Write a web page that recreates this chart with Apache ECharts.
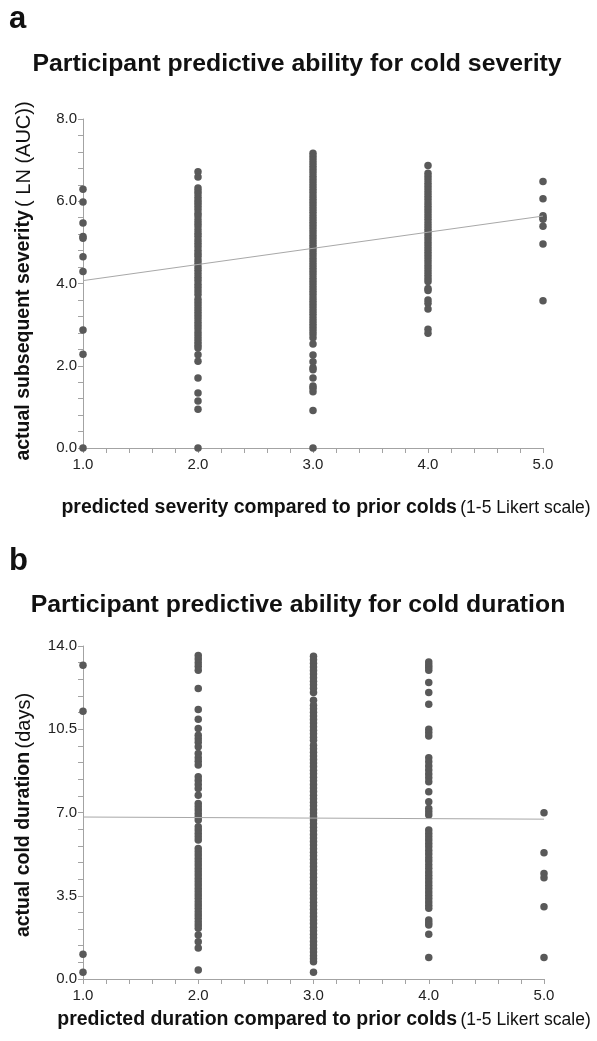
<!DOCTYPE html>
<html>
<head>
<meta charset="utf-8">
<script src="https://cdn.jsdelivr.net/npm/echarts@6/dist/echarts.min.js"></script>
<style>
  html, body { margin: 0; padding: 0; background: #fff; }
  #main { width: 597px; height: 1041px; }
</style>
</head>
<body>
<div id="main"></div>
<script>
// x categories (Likert scale) - shared by both panels
var likert = [1, 2, 3, 4, 5];

// panel a: actual severity LN(AUC), one list per predicted value
var sev1 = [6.29, 5.98, 5.47, 5.14, 5.10, 4.65, 4.29, 2.87, 2.28, 0.0];
var sev2 = [6.72, 6.59, 6.32, 6.25, 6.18, 6.10, 6.02, 5.95, 5.88, 5.80, 5.71, 5.64, 5.55, 5.47,
    5.40, 5.31, 5.22, 5.15, 5.06, 4.98, 4.90, 4.81, 4.73, 4.66, 4.57, 4.49, 4.40, 4.32, 4.24,
    4.15, 4.07, 3.98, 3.90, 3.82, 3.73, 3.62, 3.54, 3.46, 3.38, 3.30, 3.22, 3.14, 3.06, 2.98,
    2.90, 2.81, 2.73, 2.65, 2.57, 2.50, 2.43, 2.27, 2.11, 1.70, 1.34, 1.14, 0.94, 0.0];
var sev3 = [7.17, 7.09, 7.01, 6.93, 6.85, 6.77, 6.69, 6.61, 6.53, 6.45, 6.37, 6.29, 6.21, 6.13,
    6.05, 5.97, 5.89, 5.81, 5.73, 5.65, 5.57, 5.49, 5.41, 5.33, 5.25, 5.17, 5.09, 5.01, 4.93,
    4.85, 4.77, 4.69, 4.61, 4.53, 4.45, 4.37, 4.29, 4.21, 4.13, 4.05, 3.97, 3.89, 3.81, 3.73,
    3.65, 3.57, 3.49, 3.41, 3.33, 3.25, 3.17, 3.09, 3.01, 2.93, 2.85, 2.77, 2.68, 2.53, 2.26,
    2.10, 1.95, 1.90, 1.70, 1.51, 1.45, 1.37, 0.91, 0.0];
var sev4 = [6.87, 6.68, 6.60, 6.52, 6.44, 6.36, 6.28, 6.20, 6.12, 6.04, 5.96, 5.88, 5.80, 5.72,
    5.64, 5.56, 5.48, 5.40, 5.32, 5.24, 5.16, 5.08, 5.00, 4.92, 4.84, 4.76, 4.68, 4.60, 4.52,
    4.44, 4.36, 4.28, 4.20, 4.12, 4.05, 3.88, 3.83, 3.60, 3.52, 3.38, 2.89, 2.79];
var sev5 = [6.48, 6.06, 5.65, 5.60, 5.56, 5.39, 4.96, 3.58];
var sevFit = [4.07, 5.64];   // fitted line at x = 1 and x = 5

// panel b: actual cold duration (days)
var dur1 = [13.19, 11.26, 1.04, 0.28];
var dur2 = [13.60, 13.45, 13.30, 13.15, 12.98, 12.21, 11.33, 10.92, 10.53, 10.25, 10.10, 9.95,
    9.76, 9.48, 9.30, 9.15, 9.00, 8.50, 8.35, 8.18, 8.01, 7.73, 7.38, 7.24, 7.10, 6.96, 6.82,
    6.68, 6.40, 6.26, 6.12, 5.98, 5.84, 5.49, 5.35, 5.21, 5.07, 4.93, 4.79, 4.65, 4.51, 4.37,
    4.23, 4.09, 3.95, 3.81, 3.67, 3.53, 3.39, 3.25, 3.11, 2.97, 2.83, 2.69, 2.55, 2.41, 2.27,
    2.13, 1.85, 1.57, 1.30, 0.38];
var dur3 = [13.57, 13.42, 13.27, 13.12, 12.97, 12.82, 12.67, 12.52, 12.37, 12.22, 12.05, 11.72,
    11.51, 11.36, 11.21, 11.06, 10.91, 10.76, 10.61, 10.46, 10.31, 10.16, 10.04, 9.83, 9.68,
    9.53, 9.38, 9.23, 9.08, 8.93, 8.78, 8.63, 8.48, 8.33, 8.18, 8.03, 7.88, 7.73, 7.58, 7.43,
    7.28, 7.13, 6.98, 6.83, 6.68, 6.53, 6.38, 6.23, 6.08, 5.93, 5.78, 5.63, 5.48, 5.33, 5.18,
    5.03, 4.88, 4.73, 4.58, 4.43, 4.28, 4.13, 3.98, 3.83, 3.68, 3.53, 3.38, 3.23, 3.08, 2.93,
    2.78, 2.63, 2.48, 2.33, 2.18, 2.03, 1.88, 1.73, 1.58, 1.43, 1.28, 1.13, 0.98, 0.85, 0.73,
    0.28];
var dur4 = [13.33, 13.20, 13.10, 12.98, 12.47, 12.05, 11.55, 10.50, 10.36, 10.22, 9.30, 9.13,
    8.96, 8.79, 8.62, 8.46, 8.29, 7.87, 7.45, 7.17, 7.03, 6.89, 6.26, 6.12, 5.98, 5.84, 5.70,
    5.56, 5.40, 5.26, 5.10, 4.96, 4.80, 4.66, 4.50, 4.36, 4.22, 4.08, 3.94, 3.80, 3.66, 3.52,
    3.38, 3.24, 3.10, 2.97, 2.48, 2.37, 2.27, 1.88, 0.90];
var dur5 = [6.99, 5.31, 4.44, 4.26, 3.04, 0.90];
var durFit = [6.81, 6.72];

var sevTicks = ['0.0', '2.0', '4.0', '6.0', '8.0'];
var durTicks = ['0.0', '3.5', '7.0', '10.5', '14.0'];

function pairs(cols) {
    var out = [];
    for (var i = 0; i < cols.length; i++) {
        for (var j = 0; j < cols[i].length; j++) {
            out.push([likert[i], cols[i][j]]);
        }
    }
    return out;
}

var FONT = 'Liberation Sans';
var dotColor = '#595959';
var axisColor = '#a3a3a3';

function xAxisFor(gi) {
    return {
        type: 'value', gridIndex: gi, min: 1, max: 5, interval: 1,
        axisLine: { lineStyle: { color: axisColor, width: 1 } },
        axisTick: { show: true, length: 5, lineStyle: { color: axisColor } },
        minorTick: { show: true, splitNumber: 5, length: 5, lineStyle: { color: axisColor } },
        splitLine: { show: false },
        axisLabel: { color: '#222', fontFamily: FONT, fontSize: 15, margin: 9,
            formatter: function (v) { return v.toFixed(1); } }
    };
}

function yAxisFor(gi, max, interval, ticks) {
    return {
        type: 'value', gridIndex: gi, min: 0, max: max, interval: interval,
        axisLine: { show: true, lineStyle: { color: axisColor, width: 1 } },
        axisTick: { show: true, length: 5, lineStyle: { color: axisColor } },
        minorTick: { show: true, splitNumber: 5, length: 5, lineStyle: { color: axisColor } },
        splitLine: { show: false },
        axisLabel: { color: '#222', fontFamily: FONT, fontSize: 15, margin: 6,
            formatter: function (v) { return ticks[Math.round(v / interval)]; } }
    };
}

function txt(x, y, text, rich, opts) {
    var el = {
        type: 'text', x: x, y: y,
        style: { text: text, rich: rich, fill: '#111', align: 'center', verticalAlign: 'middle' }
    };
    for (var k in opts) el[k] = opts[k];
    return el;
}

var xRich = {
    b: { fontFamily: FONT, fontWeight: 'bold', fontSize: 19.5, fill: '#111' },
    n: { fontFamily: FONT, fontSize: 17.5, fill: '#111' }
};
var yRich = {
    b: { fontFamily: FONT, fontWeight: 'bold', fontSize: 19.5, fill: '#111' },
    n: { fontFamily: FONT, fontSize: 20, fill: '#111' }
};
var titleFont = 'bold 24.8px "Liberation Sans"';

var chart = echarts.init(document.getElementById('main'));
chart.setOption({
    animation: false,
    backgroundColor: '#fff',
    grid: [
        { left: 83, top: 119, width: 460, height: 329 },
        { left: 83, top: 646, width: 461, height: 333 }
    ],
    xAxis: [xAxisFor(0), xAxisFor(1)],
    yAxis: [yAxisFor(0, 8, 2, sevTicks), yAxisFor(1, 14, 3.5, durTicks)],
    graphic: [
        { type: 'text', left: 9, top: 4, style: { text: 'a', font: 'bold 31px "Liberation Sans"', fill: '#111' } },
        { type: 'text', x: 297, y: 64, style: { text: 'Participant predictive ability for cold severity',
            font: titleFont, fill: '#111', align: 'center', verticalAlign: 'middle' } },
        txt(24, 281, '{b|actual subsequent severity} {n|( LN (AUC))}', yRich, { rotation: Math.PI / 2 }),
        txt(326, 508, '{b|predicted severity compared to prior colds} {n|(1-5 Likert scale)}', xRich, {}),
        { type: 'text', left: 9, top: 546, style: { text: 'b', font: 'bold 31px "Liberation Sans"', fill: '#111' } },
        { type: 'text', x: 298, y: 605, style: { text: 'Participant predictive ability for cold duration',
            font: titleFont, fill: '#111', align: 'center', verticalAlign: 'middle' } },
        txt(24, 815, '{b|actual cold duration} {n|(days)}', yRich, { rotation: Math.PI / 2 }),
        txt(324, 1020, '{b|predicted duration compared to prior colds} {n|(1-5 Likert scale)}', xRich, {})
    ],
    series: [
        { type: 'scatter', xAxisIndex: 0, yAxisIndex: 0, symbolSize: 7.5,
          itemStyle: { color: dotColor, opacity: 1 },
          data: pairs([sev1, sev2, sev3, sev4, sev5]) },
        { type: 'line', xAxisIndex: 0, yAxisIndex: 0, symbol: 'none', z: 3,
          lineStyle: { color: '#a8a8a8', width: 1 },
          data: [[likert[0], sevFit[0]], [likert[4], sevFit[1]]] },
        { type: 'scatter', xAxisIndex: 1, yAxisIndex: 1, symbolSize: 7.5,
          itemStyle: { color: dotColor, opacity: 1 },
          data: pairs([dur1, dur2, dur3, dur4, dur5]) },
        { type: 'line', xAxisIndex: 1, yAxisIndex: 1, symbol: 'none', z: 3,
          lineStyle: { color: '#a8a8a8', width: 1 },
          data: [[likert[0], durFit[0]], [likert[4], durFit[1]]] }
    ]
});
</script>
</body>
</html>
